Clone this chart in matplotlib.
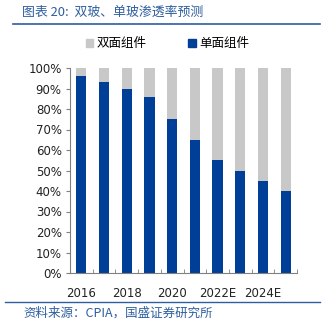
import matplotlib
matplotlib.use("Agg")
import matplotlib.pyplot as plt
from matplotlib.patches import Patch
import numpy as np

plt.rcParams['font.family'] = ['Noto Sans CJK SC', 'DejaVu Sans']

years = ["2016", "2017", "2018", "2019", "2020", "2021", "2022E", "2023E", "2024E", "2025E"]
single = [96, 93, 90, 86, 75, 65, 55, 50, 45, 40]
double = [100 - v for v in single]
tick_labels = ["2016", "", "2018", "", "2020", "", "2022E", "", "2024E", ""]

blue = "#003F97"
gray = "#C8C8C8"
textblue = "#2E5E9E"

fig = plt.figure(figsize=(3.24, 3.33), dpi=100)
ax = fig.add_axes([70/324, 1 - 273/333, 227/324, 205/333])

x = np.arange(len(years))
ax.bar(x, single, width=0.45, color=blue)
ax.bar(x, double, bottom=single, width=0.45, color=gray)

ax.set_xlim(-0.5, len(years) - 0.5)
ax.set_ylim(0, 100)
ax.set_yticks(np.arange(0, 101, 10))
ax.set_yticklabels([f"{v}%" for v in range(0, 101, 10)], fontsize=8.5, family='DejaVu Sans',
                   color='#222222')
ax.set_xticks(x)
ax.set_xticklabels(tick_labels, fontsize=8.5, family='DejaVu Sans', color='#222222')
ax.tick_params(axis='x', length=0, pad=10)
ax.set_xticks(np.arange(-0.5, len(years), 1), minor=True)
ax.tick_params(axis='x', which='minor', length=3, color='#808080', direction='in')
ax.tick_params(axis='y', length=3, color='#808080', direction='out', pad=3)
for s in ['top', 'right']:
    ax.spines[s].set_visible(False)
for s in ['left', 'bottom']:
    ax.spines[s].set_color('#808080')
    ax.spines[s].set_linewidth(0.8)

handles = [Patch(color=gray, label="双面组件"), Patch(color=blue, label="单面组件")]
fig.legend(handles=handles, loc='center', bbox_to_anchor=(0.517, 1 - 44/333), ncol=2,
           frameon=False, fontsize=9, handlelength=0.6, handleheight=0.6,
           handletextpad=0.3, columnspacing=3.3)

fig.text(22/324, 1 - 12/333, "图表 20:  双玻、单玻渗透率预测", color=textblue, fontsize=9.3,
         style='italic', va='center', ha='left')
fig.add_artist(plt.Line2D([13/324, 320/324], [1 - 24/333, 1 - 24/333], color=textblue, lw=1.2))
fig.add_artist(plt.Line2D([5/324, 320/324], [1 - 302/333, 1 - 302/333], color=textblue, lw=1.0))
fig.text(23/324, 1 - 313/333, "资料来源：CPIA，国盛证券研究所", color=textblue, fontsize=9,
         style='italic', va='center', ha='left')

fig.savefig("out.png", dpi=100)
